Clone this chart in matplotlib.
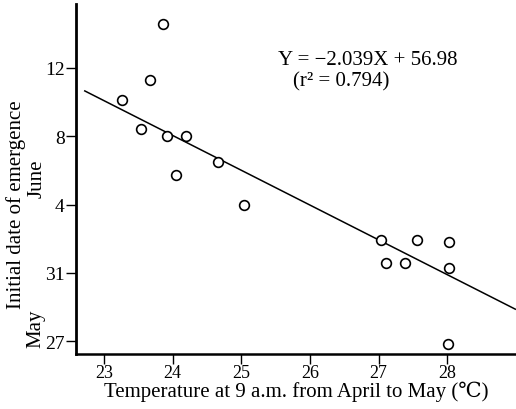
import numpy as np
import matplotlib.pyplot as plt

plt.rcParams['font.family'] = ['Liberation Serif', 'DejaVu Serif']

# temperature at 9 a.m. (deg C) and first emergence day (June 1 = 1, May 31 = 0)
temp = [23.86, 23.67, 23.26, 23.54, 23.92, 24.20, 24.66, 24.05, 25.04,
        27.04, 27.56, 28.03, 27.11, 27.39, 28.03, 28.01]
day = [14.6, 11.3, 10.1, 8.4, 8.0, 8.0, 6.5, 5.7, 4.0,
       1.9, 1.9, 1.8, 0.6, 0.6, 0.3, -4.2]

slope, intercept = -2.039, 56.98
r2 = 0.794

ytick_pos = [-4, 0, 4, 8, 12]
ytick_labels = ['27', '31', '4', '8', '12']
xticks = [23, 24, 25, 26, 27, 28]

fig = plt.figure(figsize=(5.16, 4.10), dpi=100)
ax = fig.add_axes([0.147, 0.134, 0.853, 0.854])

ax.plot(temp, day, 'o', mfc='white', mec='black', ms=7, mew=1.2, zorder=3)

xl = np.array([22.72, 28.99])
ax.plot(xl, slope * xl + intercept, color='black', lw=1.1)

ax.set_xlim(22.59, 29.0)
ax.set_ylim(-4.76, 15.75)
ax.set_xticks(xticks)
ax.set_yticks(ytick_pos)
ax.set_yticklabels(ytick_labels)
ax.tick_params(direction='out', length=7, width=1, labelsize=14, pad=1)
ax.tick_params(axis='x', labelsize=13, pad=0)

for s in ['top', 'right']:
    ax.spines[s].set_visible(False)
ax.spines['left'].set_linewidth(2)
ax.spines['bottom'].set_linewidth(1.8)

ax.set_xlabel('Temperature at 9 a.m. from April to May (℃)', fontsize=15,
              labelpad=0)
fig.text(0.031, 0.50, 'Initial date of emergence', rotation=90, fontsize=15,
         ha='center', va='center')
fig.text(0.072, 0.563, 'June', rotation=90, fontsize=15, ha='center', va='center')
fig.text(0.070, 0.198, 'May', rotation=90, fontsize=15, ha='center', va='center')

ax.text(0.459, 0.84, 'Y = −2.039X + 56.98', transform=ax.transAxes, fontsize=15,
        va='center')
ax.text(0.493, 0.78, '(r² = %.3f)' % r2, transform=ax.transAxes, fontsize=15,
        va='center')

fig.savefig('out.png', dpi=100)
